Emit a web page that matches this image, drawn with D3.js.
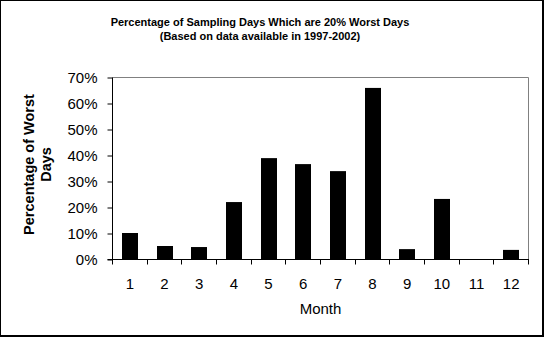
<!DOCTYPE html>
<html><head><meta charset="utf-8">
<script src="https://cdn.jsdelivr.net/npm/d3@7"></script>
<style>
html,body{margin:0;padding:0;background:#fff;}
svg{display:block;}
text{font-family:"Liberation Sans",Arial,sans-serif;fill:#000;}
</style></head>
<body>
<script>
const months = ["1","2","3","4","5","6","7","8","9","10","11","12"];
const values = [0.100, 0.050, 0.046, 0.219, 0.388, 0.365, 0.338, 0.658, 0.038, 0.231, 0.000, 0.035];
const yTicks = [0, 0.1, 0.2, 0.3, 0.4, 0.5, 0.6, 0.7];
const titleLines = ["Percentage of Sampling Days Which are 20% Worst Days", "(Based on data available in 1997-2002)"];
const yTitleLines = ["Percentage of Worst", "Days"];
const xTitle = "Month";

const W = 544, H = 338;
const svg = d3.select("body").append("svg").attr("width", W).attr("height", H);

// outer frame: 1px left/top, 2px right/bottom
svg.append("rect").attr("x",0).attr("y",0).attr("width",544).attr("height",337).attr("fill","#000");
svg.append("rect").attr("x",1).attr("y",1).attr("width",541).attr("height",334).attr("fill","#fff");

const L = 112.5, R = 528.5, T = 77, B = 259;
const x = d3.scaleBand().domain(months).range([L, R]).paddingInner(0.54).paddingOuter(0.27);
const y = d3.scaleLinear().domain([0, 0.7]).range([B, T]);

// plot area border (gray top & right)
svg.append("path").attr("d", `M${L},${T+0.5}H${R}V${B}`).attr("fill","none").attr("stroke","#808080").attr("stroke-width",1);

// bars
svg.append("g").selectAll("rect").data(values).join("rect")
  .attr("x", (d,i) => Math.round(x(months[i])))
  .attr("width", Math.round(x.bandwidth()))
  .attr("y", d => y(d))
  .attr("height", d => y(0) - y(d))
  .attr("fill", "#000");

// y axis
const yAxis = d3.axisLeft(y).tickValues(yTicks).tickFormat(d3.format(".0%")).tickSize(5).tickPadding(10);
const gy = svg.append("g").attr("transform", `translate(${L},0.5)`).call(yAxis);
gy.select(".domain").attr("d", `M0,${T}V${B}`).attr("stroke","#000");
gy.selectAll(".tick line").attr("stroke","#000");
gy.selectAll("text").style("font-size","15px").attr("dy","0.36em");

// x axis (ticks at category boundaries)
const gx = svg.append("g").attr("transform", `translate(0,${B+0.5})`);
gx.append("line").attr("x1", L-5).attr("x2", R+0.5).attr("y1",0).attr("y2",0).attr("stroke","#000");
const bounds = d3.range(months.length + 1).map(i => L + i * x.step());
gx.selectAll("line.tk").data(bounds).join("line").attr("class","tk")
  .attr("x1", d => Math.round(d - 0.5) + 0.5).attr("x2", d => Math.round(d - 0.5) + 0.5)
  .attr("y1", 0).attr("y2", 5).attr("stroke","#000");
gx.selectAll("text").data(months).join("text")
  .attr("x", d => x(d) + x.bandwidth()/2)
  .attr("y", 29)
  .attr("text-anchor","middle")
  .style("font-size","15px")
  .text(d => d);

// x title
svg.append("text").attr("x", (L+R)/2).attr("y", 314).attr("text-anchor","middle")
  .style("font-size","15px").text(xTitle);

// chart title
svg.append("g").selectAll("text").data(titleLines).join("text")
  .attr("x", 260).attr("y", (d,i) => 26 + i*14)
  .attr("text-anchor","middle")
  .style("font-size","11px").style("font-weight","bold")
  .text(d => d);

// y title
svg.append("g").selectAll("text").data(yTitleLines).join("text")
  .attr("transform", (d,i) => `translate(${34 + i*17},164.5) rotate(-90)`)
  .attr("text-anchor","middle")
  .style("font-size","14.5px").style("font-weight","bold")
  .text(d => d);
</script>
</body></html>
